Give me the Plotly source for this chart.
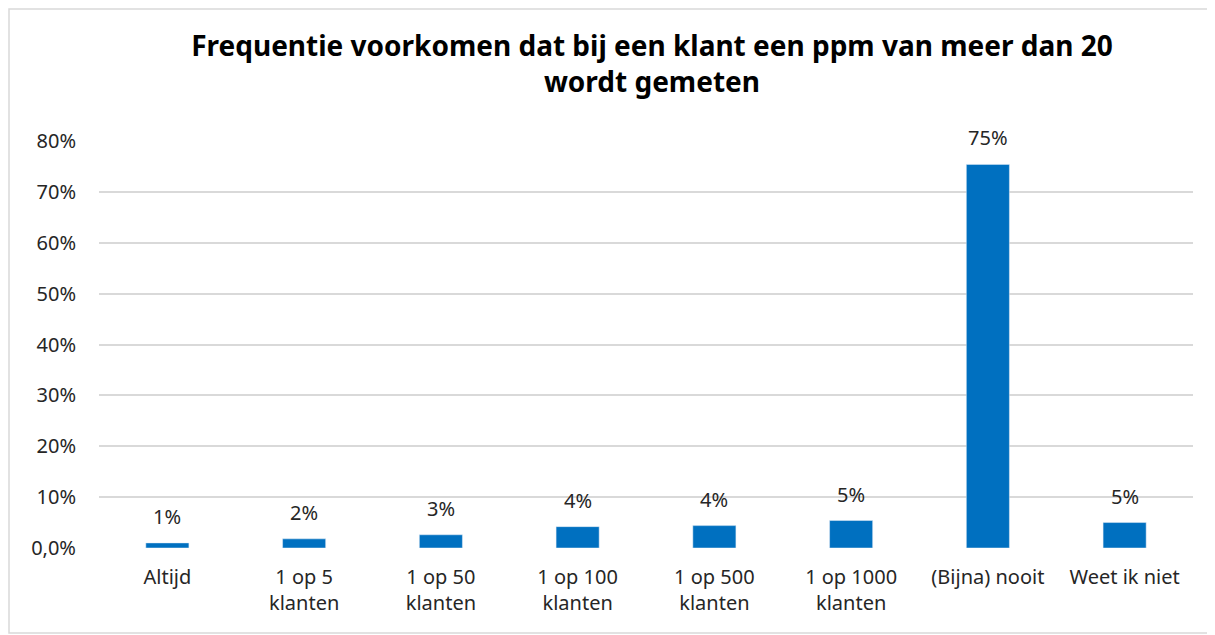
import plotly.graph_objects as go

# data
categorieen = ["Altijd", "1 op 5<br>klanten", "1 op 50<br>klanten", "1 op 100<br>klanten",
               "1 op 500<br>klanten", "1 op 1000<br>klanten", "(Bijna) nooit", "Weet ik niet"]
aandeel = [0.010, 0.018, 0.026, 0.042, 0.044, 0.054, 0.754, 0.050]
y_ticks = [0, 0.1, 0.2, 0.3, 0.4, 0.5, 0.6, 0.7, 0.8]
y_tick_labels = ["0,0%", "10%", "20%", "30%", "40%", "50%", "60%", "70%", "80%"]

FONT = "Noto Sans"
W, H = 1215, 635
# the page body adds 8px, so margins are taken 8px smaller on the left/top
L, R, T, B = 91, 30, 133, 95

fig = go.Figure(go.Bar(
    x=categorieen,
    y=aandeel,
    marker=dict(color="#0070C0"),
    width=0.315,
    hoverinfo="x+y",
))

# data labels above the bars
for cat, val in zip(categorieen, aandeel):
    fig.add_annotation(x=cat, y=val, text=f"{val * 100:.0f}%", showarrow=False,
                       yanchor="bottom", yshift=11,
                       font=dict(family=FONT, size=20, color="#262626"))

# chart border
pw, ph = W - L - R, H - T - B
fig.add_shape(type="rect", xref="paper", yref="paper",
              x0=(1 - L) / pw, x1=(1205 - L) / pw,
              y0=(H - B - 625) / ph, y1=(H - B - 1) / ph,
              line=dict(color="#d9d9d9", width=1.5), layer="below")

fig.update_layout(
    width=W, height=H,
    margin=dict(l=L, r=R, t=T, b=B, autoexpand=False),
    paper_bgcolor="white",
    plot_bgcolor="white",
    showlegend=False,
    font=dict(family=FONT, size=20, color="#262626"),
    title=dict(
        text="<b>Frequentie voorkomen dat bij een klant een ppm van meer dan 20<br>wordt gemeten</b>",
        x=0.53, xanchor="center", y=0.925, yanchor="middle",
        font=dict(family=FONT, size=28, color="black"),
    ),
    xaxis=dict(showgrid=False, showline=False, ticks="", automargin=False,
               ticklabelstandoff=15, tickfont=dict(size=20)),
    yaxis=dict(range=[0, 0.8], tickvals=y_ticks, ticktext=y_tick_labels,
               gridcolor="#d9d9d9", gridwidth=1.5, zeroline=False, automargin=False,
               showline=False, ticks="", ticklabelstandoff=22, tickfont=dict(size=20)),
)

fig.write_html("out.html")
